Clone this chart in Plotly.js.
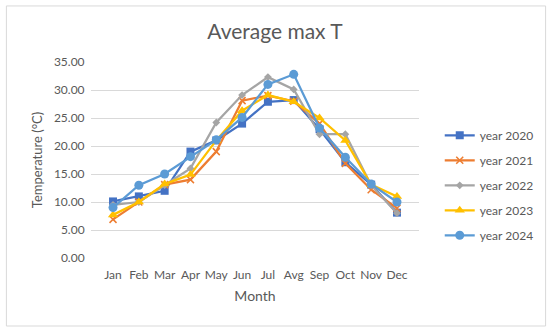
<!DOCTYPE html>
<html>
<head>
<meta charset="utf-8">
<script src="https://cdn.plot.ly/plotly-3.0.1.min.js"></script>
<style>body{margin:0;padding:0;background:#fff;} #chart{width:550px;height:332px;}</style>
</head>
<body>
<div id="chart"></div>
<script>
const months = ["Jan","Feb","Mar","Apr","May","Jun","Jul","Avg","Sep","Oct","Nov","Dec"];
const seriesNames = ["year 2020","year 2021","year 2022","year 2023","year 2024"];
const y2020 = [10.1, 11.0, 12.0, 19.0, 21.0, 24.0, 27.9, 28.2, 23.0, 17.1, 13.1, 8.1];
const y2021 = [6.9, 10.0, 13.1, 14.0, 19.0, 28.1, 29.0, 28.0, 24.0, 16.9, 12.2, 8.9];
const y2022 = [9.5, 10.0, 13.0, 16.0, 24.2, 29.1, 32.3, 30.1, 22.1, 22.1, 13.0, 8.0];
const y2023 = [7.7, 10.0, 13.2, 14.9, 21.0, 26.3, 29.1, 27.9, 25.0, 21.0, 13.1, 11.0];
const y2024 = [9.0, 13.0, 15.0, 18.1, 21.1, 25.1, 31.0, 32.8, 23.2, 18.0, 13.2, 10.0];
const yTicks = [0, 5, 10, 15, 20, 25, 30, 35];

const colors = ["#4472C4", "#ED7D31", "#A5A5A5", "#FFC000", "#5B9BD5"];
const symbols = ["square", "x-thin-open", "diamond", "triangle-up", "circle"];
const sizes = [8, 7, 6, 9, 9];
const allY = [y2020, y2021, y2022, y2023, y2024];

const font = "Lato, 'Open Sans', sans-serif";
const traces = allY.map((ys, i) => ({
  type: "scatter",
  mode: "lines+markers",
  name: seriesNames[i],
  x: months,
  y: ys,
  legendgroup: "g" + i,
  line: {color: colors[i], width: 2.25},
  marker: {symbol: symbols[i], size: sizes[i], color: colors[i],
           line: {color: colors[i], width: i === 1 ? 1.5 : 0}}
}));

const layout = {
  width: 550, height: 332,
  margin: {l: 91, r: 130, t: 62, b: 74, pad: 0},
  paper_bgcolor: "#fff", plot_bgcolor: "#fff",
  font: {family: font, color: "#595959", size: 12},
  title: {text: "Average max T", x: 0.5, xanchor: "center", y: 0.905, yanchor: "middle",
          font: {family: font, size: 21, color: "#595959"}},
  xaxis: {type: "category", showgrid: false, zeroline: false, showline: false,
          ticks: "outside", ticklen: 6, tickcolor: "rgba(0,0,0,0)",
          tickfont: {size: 12, color: "#595959"},
          title: {text: "Month", font: {size: 14, color: "#595959"}, standoff: 9}},
  yaxis: {range: [0, 35], tickvals: yTicks, tickformat: ".2f", showgrid: true,
          gridcolor: "#d9d9d9", gridwidth: 1, zeroline: false, showline: false,
          ticks: "outside", ticklen: 3, tickcolor: "rgba(0,0,0,0)",
          tickfont: {size: 12, color: "#595959"},
          title: {text: "Temperature (°C)", font: {size: 13, color: "#595959"}, standoff: 8}},
  legend: {x: 1.06, xanchor: "left", y: 0.7, yanchor: "top", tracegroupgap: 6,
           font: {size: 12, color: "#595959"}, bgcolor: "rgba(0,0,0,0)"},
  shapes: [{type: "rect", xref: "paper", yref: "paper",
            x0: -0.258, x1: 1.386, y0: -0.347, y1: 1.286,
            line: {color: "#d9d9d9", width: 1}, fillcolor: "rgba(0,0,0,0)"}]
};

Plotly.newPlot("chart", traces, layout, {displayModeBar: false, staticPlot: true});
</script>
</body>
</html>
